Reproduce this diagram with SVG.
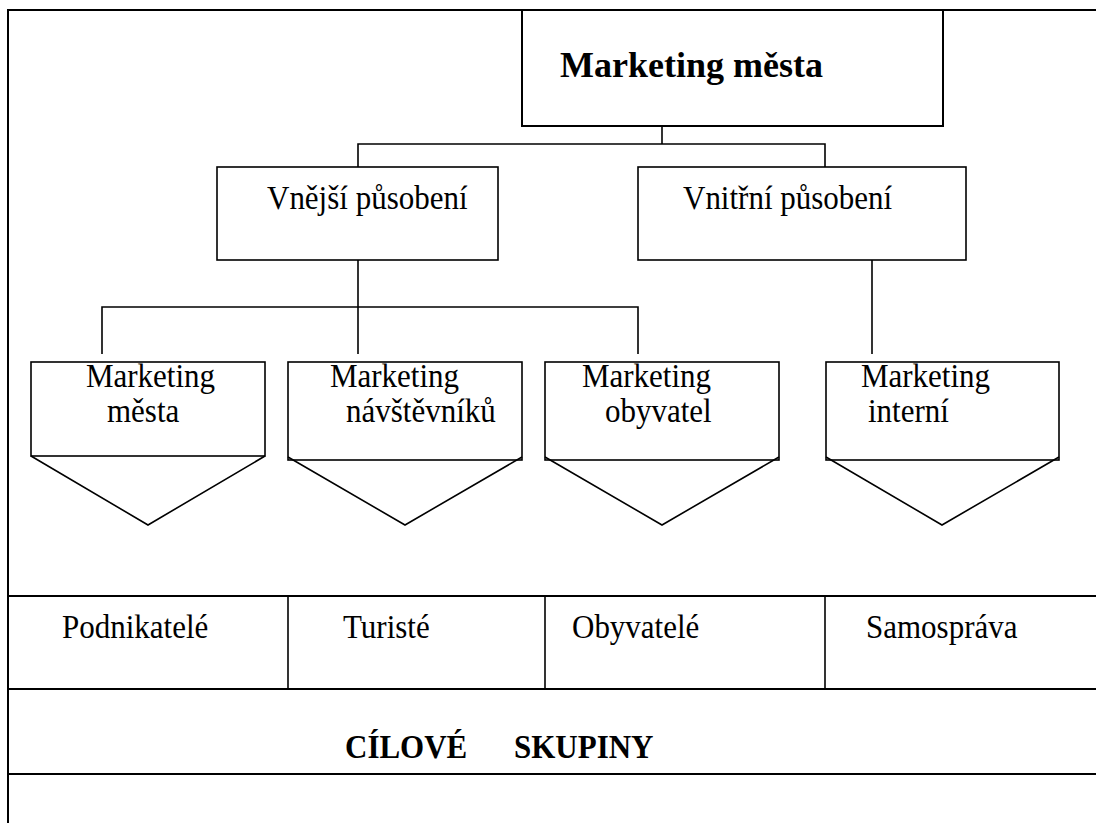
<svg xmlns="http://www.w3.org/2000/svg" width="1096" height="823" viewBox="0 0 1096 823">
<style>
.bg{fill:#fff}
.box{fill:#fff;stroke:#000;stroke-width:1.6}
.frame{fill:none;stroke:#000;stroke-width:2}
.conn{fill:none;stroke:#000;stroke-width:1.6}
.t{font-family:"Liberation Serif","Times New Roman",serif;font-size:31px;fill:#000}
.b{font-family:"Liberation Serif","Times New Roman",serif;font-size:31px;font-weight:bold;fill:#000}
.title{font-family:"Liberation Serif","Times New Roman",serif;font-size:36px;font-weight:bold;fill:#000}
</style>
<rect class="bg" x="0" y="0" width="1096" height="823"/>
<g id="frame">
<line class="frame" x1="8" y1="10" x2="1096" y2="10"/>
<line class="frame" x1="8" y1="9" x2="8" y2="823"/>
</g>
<g id="connectors">
<polyline class="conn" points="662,126 662,144"/>
<polyline class="conn" points="358,167 358,144 825,144 825,167"/>
<polyline class="conn" points="358,260 358,354"/>
<polyline class="conn" points="102,354 102,307 638,307 638,354"/>
<polyline class="conn" points="872,260 872,354"/>
</g>
<g id="n-marketing-mesta">
<rect class="box" x="522" y="10" width="421" height="116" style="stroke-width:2"/>
<text class="title" x="560" y="77">Marketing města</text>
</g>
<g id="n-vnejsi">
<rect class="box" x="217" y="167" width="281" height="93"/>
<text class="t" transform="translate(267,209) scale(1,1.08)">Vnější působení</text>
</g>
<g id="n-vnitrni">
<rect class="box" x="638" y="167" width="328" height="93"/>
<text class="t" transform="translate(683,209) scale(1,1.08)">Vnitřní působení</text>
</g>
<g id="p-mesta">
<rect class="box" x="31" y="362" width="234" height="94"/>
<polyline class="conn" points="31,456 148,525 265,456"/>
<text class="t" transform="translate(86,387) scale(1,1.08)">Marketing</text>
<text class="t" transform="translate(107,422) scale(1,1.08)">města</text>
</g>
<g id="p-navstevniku">
<rect class="box" x="288" y="362" width="234" height="98"/>
<polyline class="conn" points="288,457 405,525 522,457"/>
<text class="t" transform="translate(330,387) scale(1,1.08)">Marketing</text>
<text class="t" transform="translate(346,422) scale(1,1.08)">návštěvníků</text>
</g>
<g id="p-obyvatel">
<rect class="box" x="545" y="362" width="234" height="98"/>
<polyline class="conn" points="545,457 662,525 779,457"/>
<text class="t" transform="translate(582,387) scale(1,1.08)">Marketing</text>
<text class="t" transform="translate(605,422) scale(1,1.08)">obyvatel</text>
</g>
<g id="p-interni">
<rect class="box" x="826" y="362" width="233" height="98"/>
<polyline class="conn" points="826,457 942,525 1059,457"/>
<text class="t" transform="translate(861,387) scale(1,1.08)">Marketing</text>
<text class="t" transform="translate(868,422) scale(1,1.08)">interní</text>
</g>
<g id="table">
<line class="frame" x1="8" y1="596" x2="1096" y2="596"/>
<line class="frame" x1="8" y1="689" x2="1096" y2="689"/>
<line class="frame" x1="8" y1="774" x2="1096" y2="774"/>
<line class="conn" x1="288" y1="596" x2="288" y2="689"/>
<line class="conn" x1="545" y1="596" x2="545" y2="689"/>
<line class="conn" x1="825" y1="596" x2="825" y2="689"/>
</g>
<g id="c-podnikatele"><text class="t" transform="translate(62,638) scale(1,1.08)">Podnikatelé</text></g>
<g id="c-turiste"><text class="t" transform="translate(343,638) scale(1,1.08)">Turisté</text></g>
<g id="c-obyvatele"><text class="t" transform="translate(572,638) scale(1,1.08)">Obyvatelé</text></g>
<g id="c-samosprava"><text class="t" transform="translate(866,638) scale(1,1.08)">Samospráva</text></g>
<g id="c-cilove"><text class="b" transform="translate(345,758) scale(1,1.08)">CÍLOVÉ</text><text class="b" transform="translate(514,758) scale(1,1.08)">SKUPINY</text></g>
</svg>
